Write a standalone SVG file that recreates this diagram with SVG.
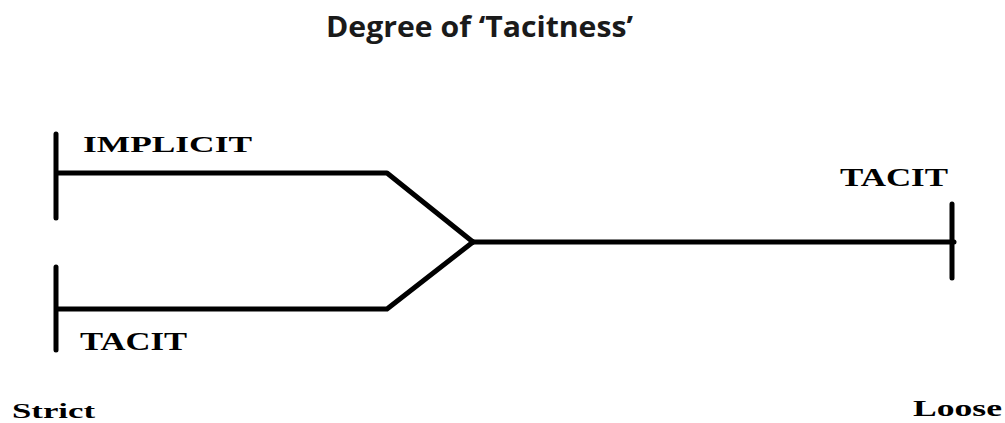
<svg xmlns="http://www.w3.org/2000/svg" width="1005" height="423" viewBox="0 0 1005 423">
<style>
.t{font-family:"Liberation Serif","Times New Roman",serif;font-weight:bold;fill:#000}
.ln{stroke:#000;stroke-width:5;fill:none;stroke-linecap:round;stroke-linejoin:round}
.title{font-family:"Open Sans","Noto Sans",sans-serif;font-weight:bold;fill:#1a1a1a}
</style>
<rect width="1005" height="423" fill="#fff"/>
<g id="title"><text class="title" x="326" y="37" font-size="29" textLength="307" lengthAdjust="spacingAndGlyphs">Degree of ‘Tacitness’</text></g>
<g id="implicit">
<line class="ln" x1="56" y1="134" x2="56" y2="218"/>
<text class="t" x="83" y="152" font-size="24" textLength="169" lengthAdjust="spacingAndGlyphs">IMPLICIT</text>
</g>
<g id="tacit-left">
<line class="ln" x1="56" y1="267" x2="56" y2="350"/>
<text class="t" x="80" y="350" font-size="26" textLength="107" lengthAdjust="spacingAndGlyphs">TACIT</text>
</g>
<g id="tacit-right">
<line class="ln" x1="952" y1="204" x2="952" y2="278"/>
<text class="t" x="840" y="186" font-size="25" textLength="108" lengthAdjust="spacingAndGlyphs">TACIT</text>
</g>
<g id="strict"><text class="t" x="12" y="418" font-size="22" textLength="83" lengthAdjust="spacingAndGlyphs">Strict</text></g>
<g id="loose"><text class="t" x="913" y="416" font-size="23" textLength="89" lengthAdjust="spacingAndGlyphs">Loose</text></g>
<g id="connectors">
<polyline class="ln" points="58,173 387,173 473,242"/>
<polyline class="ln" points="58,309 387,309 473,242"/>
<line class="ln" x1="473" y1="242" x2="954" y2="242"/>
</g>
</svg>
